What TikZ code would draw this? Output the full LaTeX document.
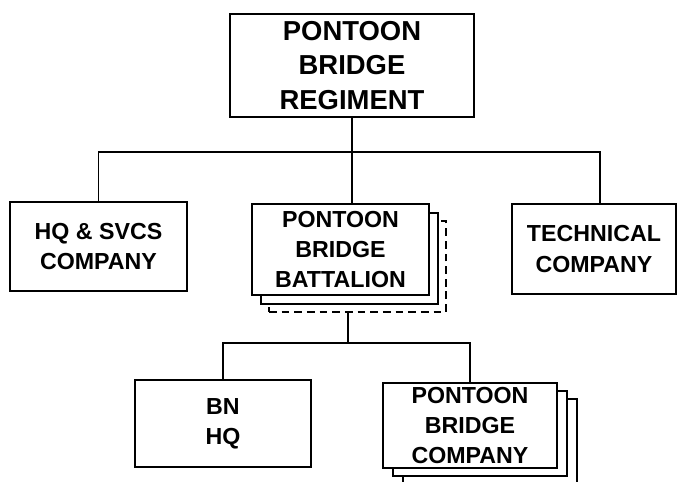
\documentclass[tikz,border=0pt]{standalone}
\usepackage{fontspec}
\setmainfont{Liberation Sans}
\usetikzlibrary{positioning}

\begin{document}
\begin{tikzpicture}[x=0.025cm, y=-0.025cm, line width=1.1pt,
  unit/.style={draw, fill=white, align=center, inner sep=0pt,
               font=\fontsize{16.5}{21.5}\selectfont\bfseries},
  copyline/.style={dash pattern=on 5.5pt off 3.5pt}]
  \useasboundingbox (0,0) rectangle (678,481);
  % regiment
  \node[unit, minimum width=6.1cm, minimum height=2.575cm,
        font=\fontsize{19.5}{24.5}\selectfont\bfseries](regt) at (352,65.5)
    {PONTOON\\BRIDGE\\REGIMENT};
  % second row
  \node[unit, minimum width=4.425cm, minimum height=2.225cm](hq) at (98.5,246.5)
    {HQ \& SVCS\\COMPANY};
  \node[unit, copyline, minimum width=4.425cm, minimum height=2.275cm](bnC) at (357.5,266.5){};
  \node[unit, minimum width=4.425cm, minimum height=2.275cm](bnB) at (349.5,258.5){};
  \node[unit, minimum width=4.425cm, minimum height=2.275cm](bn) at (340.5,249.5)
    {PONTOON\\BRIDGE\\BATTALION};
  \node[unit, minimum width=4.1cm, minimum height=2.25cm](tech) at (594,249)
    {TECHNICAL\\COMPANY};
  % third row
  \node[unit, minimum width=4.4cm, minimum height=2.175cm](bnhq) at (223,423.5)
    {BN\\HQ};
  \node[unit, minimum width=4.35cm, minimum height=2.125cm](pbcC) at (490,441.5){};
  \node[unit, minimum width=4.35cm, minimum height=2.125cm](pbcB) at (480,433.5){};
  \node[unit, minimum width=4.35cm, minimum height=2.125cm](pbc) at (470,425.5)
    {PONTOON\\BRIDGE\\COMPANY};
  % connectors
  \coordinate (bus) at (352,152);
  \coordinate (fork) at (348,343);
  \draw (regt.south) -- (regt.south |- bn.north);
  \draw (hq.north) |- (bus) -| ([xshift=6*0.025cm]tech.north);
  \draw (fork |- bnC.south) -- (fork);
  \draw (bnhq.north) |- (fork) -| (pbc.north);
\end{tikzpicture}
\end{document}
